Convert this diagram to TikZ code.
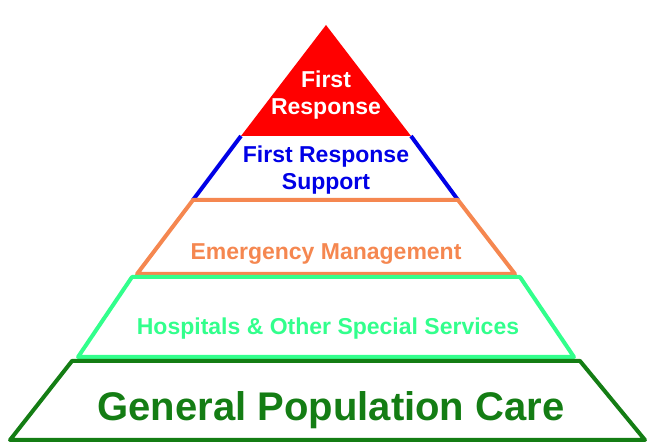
\documentclass[tikz,border=0pt]{standalone}
\usepackage{fontspec}
\setmainfont{Liberation Sans}
\definecolor{fred}{RGB}{255,0,0}
\definecolor{fblue}{RGB}{0,0,230}
\definecolor{forange}{RGB}{245,135,80}
\definecolor{flight}{RGB}{50,255,140}
\definecolor{fdark}{RGB}{20,125,20}
\begin{document}
\begin{tikzpicture}[x=1pt,y=-1pt,line join=round,
    band/.style={line width=4pt},
    label/.style={font=\bfseries\fontsize{23}{27}\selectfont,align=center}]
\useasboundingbox (0,0) rectangle (654,446);
% pyramid bands
\fill[fred] (326,25) -- (411,136) -- (241,136) -- cycle;
\draw[band,fblue] (241,136) -- (193,200) (411,136) -- (458,200);
\draw[band,forange] (193,200) -- (458,200) -- (515,274) -- (137,274) -- cycle;
\draw[band,flight] (132,277) -- (520,277) -- (574,357) -- (78,357) -- cycle;
\draw[band,fdark] (72,361) -- (580,361) -- (645,440) -- (10,440) -- cycle;
% labels
\node[label,white] (first) at (326,95) {First\\Response};
\node[label,fblue] (support) at (326,170) {First Response\\Support};
\node[label,forange] (emerg) at (326,254) {Emergency Management};
\node[label,flight] (hosp) at (328,329) {Hospitals \& Other Special Services};
\node[font=\bfseries\fontsize{40}{44}\selectfont,fdark] (general) at (331,410) {General Population Care};
\end{tikzpicture}
\end{document}
